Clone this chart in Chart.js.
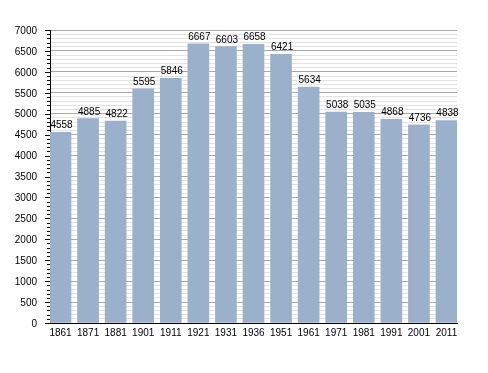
<!DOCTYPE html>
<html><head><meta charset="utf-8">
<script src="https://cdn.jsdelivr.net/npm/chart.js@4.4.0/dist/chart.umd.min.js"></script>
<style>html,body{margin:0;padding:0;background:#fff}#wrap{width:488px;height:373px}</style>
</head><body><div id="wrap"><canvas id="c" width="488" height="373"></canvas></div>
<script>
const years = ["1861","1871","1881","1901","1911","1921","1931","1936","1951","1961","1971","1981","1991","2001","2011"];
const population = [4558,4885,4822,5595,5846,6667,6603,6658,6421,5634,5038,5035,4868,4736,4838];
const yMin = 0, yMax = 7000, yMinorStep = 100, yMajorStep = 500;

const FONT = "10px 'Liberation Sans',Arial,sans-serif";

function drawText(ctx, str, x, y, align, baseline) {
  ctx.save();
  ctx.font = FONT;
  ctx.fillStyle = '#000';
  ctx.textAlign = align;
  ctx.textBaseline = baseline;
  ctx.fillText(str, x, y);
  ctx.restore();
}

const labelsPlugin = {
  id: 'labelsPlugin',
  afterDraw(chart) {
    const ctx = chart.ctx, xs = chart.scales.x, ys = chart.scales.y;
    chart.getDatasetMeta(0).data.forEach((bar, i) => {
      drawText(ctx, String(population[i]), bar.x + 1, bar.y - 4, 'center', 'alphabetic');
    });
    ctx.save();
    ctx.strokeStyle = '#000';
    ctx.lineWidth = 1;
    ys.ticks.forEach(t => {
      const py = Math.round(ys.getPixelForValue(t.value)) + 0.5;
      const len = (t.value % yMajorStep === 0) ? 5 : 3;
      ctx.beginPath();
      ctx.moveTo(ys.right - len, py);
      ctx.lineTo(ys.right, py);
      ctx.stroke();
    });
    ctx.restore();
    ys.ticks.forEach(t => {
      if (t.value % yMajorStep === 0) {
        drawText(ctx, String(t.value), 37, ys.getPixelForValue(t.value) + 1, 'right', 'middle');
      }
    });
    years.forEach((yr, i) => {
      drawText(ctx, yr, xs.getPixelForValue(i), xs.top + 5, 'center', 'top');
    });
  }
};

new Chart(document.getElementById('c'), {
  type: 'bar',
  data: {
    datasets: [{
      data: population.map((v, i) => ({x: i, y: v})),
      backgroundColor: 'rgb(155,176,203)',
      borderWidth: 0,
      barThickness: 21
    }]
  },
  options: {
    responsive: false,
    animation: false,
    events: [],
    layout: {padding: {top: 30, right: 31, bottom: 0, left: 0}},
    plugins: {legend: {display: false}, tooltip: {enabled: false}},
    scales: {
      x: {
        type: 'linear',
        offset: false,
        min: -0.381, max: 14.381,
        afterBuildTicks(scale) { scale.ticks = years.map((_, i) => ({value: i})); },
        afterFit(scale) { scale.height = 50; },
        grid: {display: false, drawTicks: false, offset: false},
        border: {display: true, color: '#000', width: 1},
        ticks: {display: false}
      },
      y: {
        min: yMin, max: yMax,
        afterFit(scale) { scale.width = 50; },
        grid: {
          drawTicks: false,
          color: (c) => (c.tick && c.tick.value % yMajorStep === 0) ? '#a8a8a8' : '#e2e2e2',
          lineWidth: 1
        },
        border: {display: true, color: '#000', width: 1},
        ticks: {stepSize: yMinorStep, autoSkip: false, display: false}
      }
    }
  },
  plugins: [labelsPlugin]
});
</script></body></html>
